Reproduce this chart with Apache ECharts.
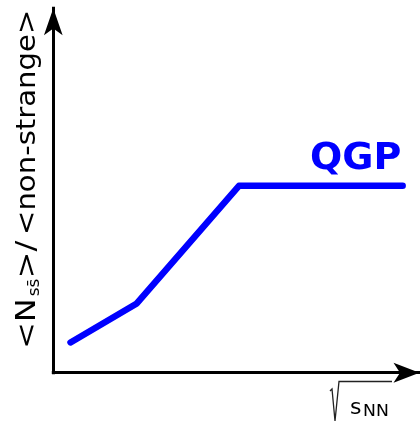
<!DOCTYPE html>
<html>
<head>
<meta charset="utf-8">
<script src="https://cdn.jsdelivr.net/npm/echarts@6/dist/echarts.min.js"></script>
<style>
  html, body { margin: 0; padding: 0; background: #fff; }
  #chart { width: 420px; height: 423px; }
</style>
</head>
<body>
<div id="chart"></div>
<script>
// line points (arbitrary units, axes run 0..100)
const xVals = [4.7, 22.8, 50.7, 95.4]
const yVals = [8.3, 19.0, 51.3, 51.3]
const phaseLabel = 'QGP'

const points = xVals.map((x, i) => [x, yVals[i]])

const axisStyle = (size) => ({
  type: 'value',
  min: 0,
  max: 100,
  axisLine: {
    show: true,
    symbol: ['none', 'arrow'],
    symbolSize: size,
    lineStyle: { color: '#000', width: 3, cap: 'square' }
  },
  axisTick: { show: false },
  axisLabel: { show: false },
  splitLine: { show: false }
})

const chart = echarts.init(document.getElementById('chart'))
chart.setOption({
  backgroundColor: '#fff',
  animation: false,
  grid: { left: 53.3, right: 0.5, top: 8.3, bottom: 50.3 },
  xAxis: axisStyle([15, 26]),
  yAxis: axisStyle([14, 27]),
  series: [
    {
      type: 'line',
      data: points,
      symbol: 'none',
      lineStyle: { color: '#0000ff', width: 6.5, cap: 'round', join: 'round' }
    }
  ],
  graphic: [
    // QGP label
    {
      type: 'text', x: 310, y: 159.6,
      style: { text: phaseLabel, font: 'bold 38px "DejaVu Sans"', fill: '#0000ff', verticalAlign: 'middle' }
    },
    // y axis title, reads bottom to top
    {
      type: 'group', x: 36, y: 349, rotation: Math.PI / 2, scaleX: 1.12,
      children: [
        { type: 'text', x: 0, y: -7.8, scaleX: 1.1, style: { text: '<N', font: '26px "DejaVu Sans"', fill: '#000', verticalAlign: 'middle' } },
        { type: 'text', x: 47, y: -0.5, style: { text: 's' + 's\u0304', font: '15px "DejaVu Sans"', fill: '#000', verticalAlign: 'middle' } },
        { type: 'text', x: 63, y: -7.8, scaleX: 1.1, style: { text: '>/', font: '26px "DejaVu Sans"', fill: '#000', verticalAlign: 'middle' } },
        { type: 'text', x: 101.8, y: -7.8, style: { text: '<non-strange>', font: '26px "DejaVu Sans"', fill: '#000', verticalAlign: 'middle' } }
      ]
    },
    // x axis title: sqrt(s_NN)
    {
      type: 'polyline',
      shape: { points: [[330, 391], [332, 389], [335, 421], [339, 381.5], [392, 381.5]] },
      style: { stroke: '#222', lineWidth: 1.3, fill: null }
    },
    {
      type: 'text', x: 350, y: 415 - 6.6,
      style: { text: 's', font: '22px "DejaVu Sans"', fill: '#000', verticalAlign: 'middle' }
    },
    {
      type: 'text', x: 363, y: 417 - 4.5, scaleX: 1.15,
      style: { text: 'NN', font: '15px "DejaVu Sans"', fill: '#000', verticalAlign: 'middle' }
    }
  ]
})
</script>
</body>
</html>
